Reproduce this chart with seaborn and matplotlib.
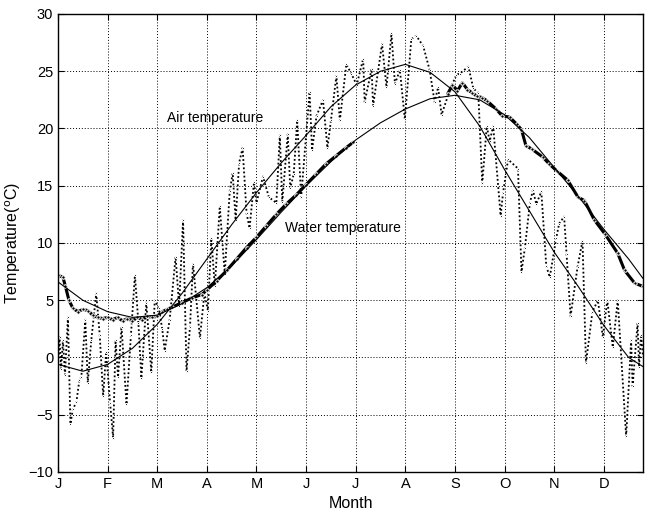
import matplotlib
matplotlib.use("Agg")
import matplotlib.pyplot as plt
import seaborn as sns
import pandas as pd

# ---- data (months since 1 Jan, temperature in deg C) ----
month_labels = ["J", "F", "M", "A", "M", "J", "J", "A", "S", "O", "N", "D"]
y_ticks = [-10, -5, 0, 5, 10, 15, 20, 25, 30]

air_month = [0.00, 0.03, 0.06, 0.10, 0.14, 0.20, 0.25, 0.30, 0.37, 0.43, 0.47, 0.55, 0.60, 0.67,
             0.77, 0.84, 0.91, 0.97, 1.05, 1.11, 1.16, 1.21, 1.28, 1.38, 1.47, 1.55, 1.62, 1.68,
             1.78, 1.88, 1.95, 2.03, 2.10, 2.15, 2.25, 2.37, 2.44, 2.52, 2.59, 2.66, 2.72, 2.86,
             2.95, 3.02, 3.09, 3.16, 3.26, 3.36, 3.46, 3.52, 3.58, 3.65, 3.72, 3.80, 3.86, 3.95,
             4.00, 4.13, 4.25, 4.40, 4.47, 4.52, 4.63, 4.68, 4.75, 4.82, 4.90, 5.07, 5.12, 5.21,
             5.34, 5.43, 5.50, 5.61, 5.68, 5.81, 5.91, 6.02, 6.15, 6.18, 6.32, 6.35, 6.53, 6.62,
             6.72, 6.79, 6.89, 6.99, 7.12, 7.22, 7.36, 7.49, 7.59, 7.66, 7.73, 7.90, 8.03, 8.10,
             8.27, 8.37, 8.47, 8.55, 8.64, 8.70, 8.77, 8.92, 8.97, 9.07, 9.27, 9.34, 9.41, 9.51,
             9.57, 9.64, 9.74, 9.84, 9.91, 10.04, 10.10, 10.20, 10.25, 10.33, 10.47, 10.57, 10.64,
             10.77, 10.88, 10.98, 11.07, 11.18, 11.28, 11.45, 11.55, 11.58, 11.68, 11.71, 11.75, 11.79]
air_temp = [-0.5, 1.8, -1.0, 1.5, -1.5, 3.5, -5.8, -4.5, -3.9, -2.0, -1.7, 3.3, -2.2, 1.5,
            5.6, 2.0, -3.4, 0.5, -4.0, -7.0, 1.5, -1.7, 2.7, -4.1, 2.0, 7.2, 3.0, -1.8,
            4.8, -1.3, 5.0, 4.3, 2.5, 0.6, 3.3, 8.8, 4.5, 12.0, -1.2, 2.7, 8.2, 1.7,
            5.6, 4.1, 10.4, 6.2, 13.2, 7.3, 14.5, 16.1, 12.0, 17.0, 18.3, 12.6, 11.3, 15.3,
            13.5, 15.8, 14.0, 13.5, 19.4, 13.6, 19.5, 14.8, 16.0, 20.7, 14.0, 23.2, 18.1, 21.1,
            22.5, 18.3, 20.7, 24.6, 20.7, 25.6, 24.8, 23.8, 26.1, 22.3, 25.2, 22.0, 27.4, 23.6,
            28.3, 23.9, 25.1, 20.8, 27.8, 28.1, 27.2, 25.1, 22.3, 23.6, 21.2, 23.4, 24.7, 24.8,
            25.4, 23.5, 23.1, 15.2, 20.2, 18.9, 20.2, 12.4, 14.4, 17.3, 16.5, 7.5, 9.6, 13.5,
            14.6, 13.4, 14.5, 8.0, 7.0, 10.4, 11.7, 12.3, 9.0, 3.6, 7.9, 10.2, -0.5,
            4.0, 5.0, 1.8, 5.0, 0.9, 5.0, -6.9, 1.5, -2.5, 3.0, -0.8, 2.0, 0.0]

water_month = [0.00, 0.10, 0.15, 0.22, 0.30, 0.40, 0.50, 0.60, 0.70, 0.80, 0.90, 1.00, 1.10,
               1.20, 1.30, 1.40, 1.50, 1.60, 1.70, 1.80, 1.90, 2.00, 2.10, 2.20, 2.30, 2.50,
               2.70, 2.90, 3.00, 3.20, 3.40, 3.60, 3.80, 4.00, 4.20, 4.40, 4.60, 4.80, 5.00,
               5.20, 5.40, 5.60, 5.80, 5.95]
water_temp = [7.2, 7.0, 6.2, 5.0, 4.3, 4.0, 4.2, 4.1, 3.7, 3.5, 3.4, 3.5, 3.3,
              3.5, 3.2, 3.4, 3.2, 3.5, 3.3, 3.6, 3.5, 3.6, 4.0, 4.2, 4.4, 4.8,
              5.2, 5.5, 5.9, 6.7, 7.6, 8.6, 9.6, 10.5, 11.5, 12.5, 13.4, 14.2, 15.1,
              16.0, 16.9, 17.6, 18.3, 18.8]
water2_month = [7.85, 7.95, 8.05, 8.15, 8.25, 8.35, 8.45, 8.55, 8.65, 8.83, 8.95, 9.10,
                9.24, 9.34, 9.43, 9.55, 9.77, 9.90, 10.05, 10.27, 10.48, 10.61, 10.81,
                11.02, 11.28, 11.42, 11.62, 11.79]
water2_temp = [23.0, 23.8, 23.3, 24.0, 23.4, 23.1, 22.8, 22.7, 22.4, 21.7, 21.1, 21.0,
               20.4, 19.9, 18.5, 18.2, 17.5, 16.9, 16.3, 15.5, 14.0, 13.7, 12.0,
               10.8, 9.1, 7.6, 6.5, 6.2]

fit_month = [0.0, 0.5, 1.0, 1.5, 2.0, 2.5, 3.0, 3.5, 4.0, 4.5, 5.0, 5.5, 6.0,
             6.5, 7.0, 7.5, 8.0, 8.5, 9.0, 9.5, 10.0, 10.5, 11.0, 11.5, 11.79]
air_fit = [-0.6, -1.2, -0.6, 0.8, 2.9, 5.6, 8.6, 11.6, 14.4, 17.0, 19.4, 21.9, 23.8,
           25.0, 25.6, 24.9, 23.2, 20.2, 16.4, 12.8, 9.2, 6.1, 2.8, 0.0, -0.8]
water_fit = [6.6, 5.0, 4.0, 3.5, 3.7, 4.7, 6.1, 8.0, 10.3, 12.7, 15.0, 17.1, 19.0,
             20.5, 21.7, 22.6, 22.9, 22.5, 21.2, 19.2, 16.6, 14.0, 11.2, 8.6, 6.9]

# ---- plotting ----
sns.set_theme(style="white")
plt.rcParams["font.family"] = ["Liberation Sans", "DejaVu Sans"]

fig = plt.figure(figsize=(6.49, 5.16), dpi=100)
ax = fig.add_axes([0.0894, 0.0853, 0.9014, 0.8876])

air_df = pd.DataFrame({"m": air_month, "t": air_temp})
w1 = pd.DataFrame({"m": water_month, "t": water_temp})
w2 = pd.DataFrame({"m": water2_month, "t": water2_temp})
fit_df = pd.DataFrame({"m": fit_month, "air": air_fit, "water": water_fit})

sns.lineplot(data=air_df, x="m", y="t", ax=ax, color="black", lw=1.3, linestyle=(0, (1, 1.3)),
             marker=".", markersize=3, estimator=None, sort=False)
for d in (w1, w2):
    sns.lineplot(data=d, x="m", y="t", ax=ax, color="black", lw=2.2,
                 marker="o", markersize=2.5, estimator=None, sort=False)
sns.lineplot(data=fit_df, x="m", y="air", ax=ax, color="black", lw=0.8, estimator=None)
sns.lineplot(data=fit_df, x="m", y="water", ax=ax, color="black", lw=0.8, estimator=None)

ax.set_xlim(0, 11.79)
ax.set_ylim(-10, 30)
ax.set_xticks(range(12))
ax.set_xticklabels(month_labels)
ax.set_yticks(y_ticks)
ax.grid(True, color="black", linestyle=(0, (1, 2)), linewidth=0.7)
for s in ax.spines.values():
    s.set_color("black")
    s.set_linewidth(1.0)
ax.tick_params(direction="in", length=4, colors="black", labelsize=10.5, width=0.8,
               top=True, right=True, left=True, bottom=True, labeltop=False, labelright=False)
ax.set_xlabel("Month", fontsize=11.5, color="black")
ax.set_ylabel("Temperature($^{\\rm o}$C)", fontsize=11.5, color="black")

ax.text(3.16, 20.9, "Air temperature", fontsize=10, ha="center", va="center", color="black")
ax.text(5.75, 11.3, "Water temperature", fontsize=10, ha="center", va="center", color="black")

fig.savefig("out.png", dpi=100, facecolor="white")
